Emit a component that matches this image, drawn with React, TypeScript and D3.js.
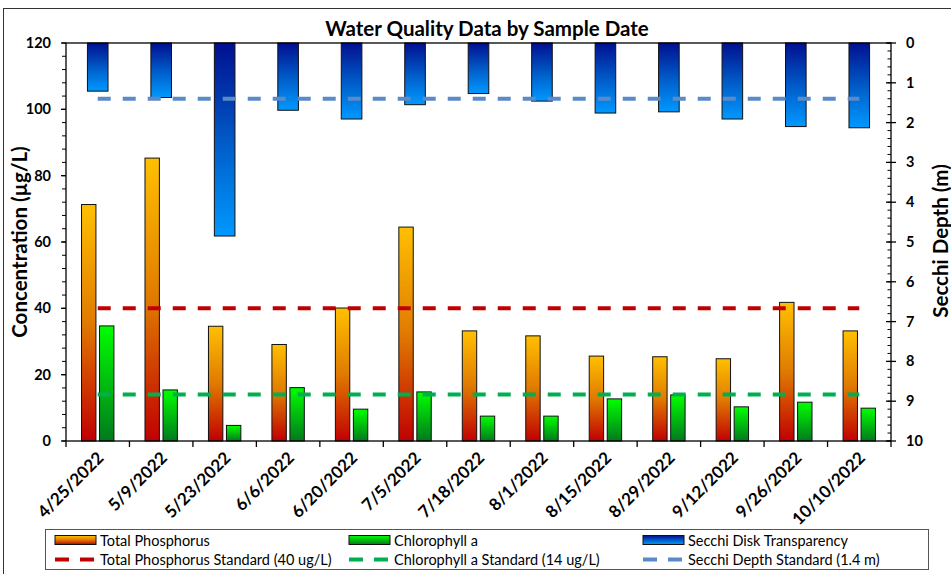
import React from "react";
import * as d3 from "d3";

const sampleDates = ["4/25/2022", "5/9/2022", "5/23/2022", "6/6/2022", "6/20/2022", "7/5/2022", "7/18/2022", "8/1/2022", "8/15/2022", "8/29/2022", "9/12/2022", "9/26/2022", "10/10/2022"];
const totalPhosphorus = [71.3, 85.3, 34.6, 29.1, 40.1, 64.5, 33.2, 31.7, 25.6, 25.4, 24.8, 41.8, 33.2];
const chlorophyllA = [34.7, 15.4, 4.7, 16.1, 9.6, 14.8, 7.5, 7.5, 12.7, 13.9, 10.3, 11.7, 9.9];
const secchiDepth = [1.21, 1.37, 4.85, 1.69, 1.91, 1.55, 1.27, 1.46, 1.76, 1.73, 1.91, 2.1, 2.13];
const tpStandard = 40;
const chlStandard = 14;
const secchiStandard = 1.4;
const leftTicks = [0, 20, 40, 60, 80, 100, 120];
const rightTicks = [0, 1, 2, 3, 4, 5, 6, 7, 8, 9, 10];

const W = 951;
const H = 574;
const plot = { left: 66, right: 891, top: 43, bottom: 441 };
const FONT = "Lato, 'Open Sans', sans-serif";

export default function App() {
  const x = d3.scaleBand<string>().domain(sampleDates).range([plot.left, plot.right]).paddingInner(0).paddingOuter(0);
  const bw = x.bandwidth();
  const x1 = d3.scaleBand<string>().domain(["tp", "chl"]).range([bw / 2 - 16.2, bw / 2 + 16.2]).paddingInner(0.2);
  const yL = d3.scaleLinear().domain([0, 120]).range([plot.bottom, plot.top]);
  const yR = d3.scaleLinear().domain([0, 10]).range([plot.top, plot.bottom]);
  const secW = 20.6;

  const leftMinor = d3.range(0, 121, 4);
  const rightMinor = d3.range(0, 10.01, 0.2);

  const lineX1 = (x(sampleDates[0]) as number) + bw / 2;
  const lineX2 = (x(sampleDates[sampleDates.length - 1]) as number) + bw / 2;

  const legendCols = [55, 349, 643];
  const legendRow1 = 540;
  const legendRow2 = 559.5;

  return (
    <svg width={W} height={H} style={{ position: "absolute", left: 0, top: 0, background: "#fff" }} fontFamily={FONT}>
      <defs>
        <linearGradient id="gTP" x1="0" y1="0" x2="0" y2="1">
          <stop offset="0" stopColor="#FFC000" />
          <stop offset="0.5" stopColor="#E07A00" />
          <stop offset="1" stopColor="#C00000" />
        </linearGradient>
        <linearGradient id="gChl" x1="0" y1="0" x2="0" y2="1">
          <stop offset="0" stopColor="#00FF00" />
          <stop offset="1" stopColor="#007A1E" />
        </linearGradient>
        <linearGradient id="gSec" x1="0" y1="0" x2="0" y2="1">
          <stop offset="0" stopColor="#001090" />
          <stop offset="0.55" stopColor="#0060CC" />
          <stop offset="1" stopColor="#0099FF" />
        </linearGradient>
      </defs>

      {/* outer border */}
      <rect x={3.5} y={8.5} width={W + 20} height={H + 20} fill="none" stroke="#333" strokeWidth={1} />

      {/* title */}
      <text x={487} y={36} textAnchor="middle" fontSize={20.5} fontWeight="bold" fill="#000">
        Water Quality Data by Sample Date
      </text>

      {/* Secchi bars (hanging from top) */}
      {sampleDates.map((d, i) => (
        <rect key={"s" + i} x={(x(d) as number) + bw / 2 - secW / 2} y={yR(0)} width={secW} height={yR(secchiDepth[i]) - yR(0)} fill="url(#gSec)" stroke="#111" strokeWidth={1} />
      ))}

      {/* TP and Chl bars */}
      {sampleDates.map((d, i) => (
        <g key={"b" + i}>
          <rect x={(x(d) as number) + (x1("tp") as number)} y={yL(totalPhosphorus[i])} width={x1.bandwidth()} height={yL(0) - yL(totalPhosphorus[i])} fill="url(#gTP)" stroke="#111" strokeWidth={1} />
          <rect x={(x(d) as number) + (x1("chl") as number)} y={yL(chlorophyllA[i])} width={x1.bandwidth()} height={yL(0) - yL(chlorophyllA[i])} fill="url(#gChl)" stroke="#111" strokeWidth={1} />
        </g>
      ))}

      {/* standards */}
      <line x1={lineX1} x2={lineX2} y1={yL(tpStandard)} y2={yL(tpStandard)} stroke="#C00000" strokeWidth={4} strokeDasharray="13 12" />
      <line x1={lineX1} x2={lineX2} y1={yL(chlStandard)} y2={yL(chlStandard)} stroke="#00B050" strokeWidth={4} strokeDasharray="13 12" />
      <line x1={lineX1} x2={lineX2} y1={yR(secchiStandard)} y2={yR(secchiStandard)} stroke="#5B8AC8" strokeWidth={4} strokeDasharray="13 12" />

      {/* plot frame */}
      <rect x={plot.left} y={plot.top} width={plot.right - plot.left} height={plot.bottom - plot.top} fill="none" stroke="#000" strokeWidth={1.3} />

      {/* left axis ticks */}
      {leftMinor.map((v) => (
        <line key={"lm" + v} x1={plot.left - 4} x2={plot.left} y1={yL(v)} y2={yL(v)} stroke="#000" strokeWidth={1} />
      ))}
      {leftTicks.map((v) => (
        <g key={"lt" + v}>
          <line x1={plot.left - 5} x2={plot.left} y1={yL(v)} y2={yL(v)} stroke="#000" strokeWidth={1.3} />
          <text x={51} y={yL(v)} dy="0.35em" textAnchor="end" fontSize={14.5} fontWeight="bold" fill="#000">{v}</text>
        </g>
      ))}

      {/* right axis ticks */}
      {rightMinor.map((v, i) => (
        <line key={"rm" + i} x1={plot.right - 3.5} x2={plot.right} y1={yR(v)} y2={yR(v)} stroke="#000" strokeWidth={1} />
      ))}
      {rightTicks.map((v) => (
        <g key={"rt" + v}>
          <line x1={plot.right - 5} x2={plot.right + 5} y1={yR(v)} y2={yR(v)} stroke="#000" strokeWidth={1.3} />
          <text x={906} y={yR(v)} dy="0.35em" textAnchor="start" fontSize={14.5} fontWeight="bold" fill="#000">{v}</text>
        </g>
      ))}

      {/* x axis ticks and labels */}
      {d3.range(sampleDates.length + 1).map((k) => (
        <line key={"xt" + k} x1={plot.left + k * bw} x2={plot.left + k * bw} y1={plot.bottom} y2={plot.bottom + 6} stroke="#000" strokeWidth={1.3} />
      ))}
      {sampleDates.map((d) => {
        const cx = (x(d) as number) + bw / 2 + 7;
        const cy = 459;
        return (
          <text key={"xl" + d} x={cx} y={cy} transform={`rotate(-45 ${cx} ${cy})`} textAnchor="end" fontSize={17} fontWeight="bold" fill="#000">{d}</text>
        );
      })}

      {/* axis titles */}
      <text transform={`translate(27 242) rotate(-90)`} textAnchor="middle" fontSize={20.5} fontWeight="bold" fill="#000">Concentration (µg/L)</text>
      <text transform={`translate(948 241) rotate(-90)`} textAnchor="middle" fontSize={20.5} fontWeight="bold" fill="#000">Secchi Depth (m)</text>

      {/* legend */}
      <rect x={45.5} y={529.5} width={883} height={40} fill="#fff" stroke="#555" strokeWidth={1} />
      <rect x={legendCols[0]} y={legendRow1 - 4.5} width={41} height={9} fill="url(#gTP)" stroke="#111" strokeWidth={1} />
      <rect x={legendCols[1]} y={legendRow1 - 4.5} width={41} height={9} fill="url(#gChl)" stroke="#111" strokeWidth={1} />
      <rect x={legendCols[2]} y={legendRow1 - 4.5} width={41} height={9} fill="url(#gSec)" stroke="#111" strokeWidth={1} />
      <line x1={legendCols[0]} x2={legendCols[0] + 39} y1={legendRow2} y2={legendRow2} stroke="#C00000" strokeWidth={4} strokeDasharray="14 11" />
      <line x1={legendCols[1]} x2={legendCols[1] + 39} y1={legendRow2} y2={legendRow2} stroke="#00B050" strokeWidth={4} strokeDasharray="14 11" />
      <line x1={legendCols[2]} x2={legendCols[2] + 39} y1={legendRow2} y2={legendRow2} stroke="#5B8AC8" strokeWidth={4} strokeDasharray="14 11" />
      <g fontSize={14.5} fill="#000">
        <text x={legendCols[0] + 45} y={legendRow1 + 5.5}>Total Phosphorus</text>
        <text x={legendCols[1] + 45} y={legendRow1 + 5.5}>Chlorophyll a</text>
        <text x={legendCols[2] + 45} y={legendRow1 + 5.5}>Secchi Disk Transparency</text>
        <text x={legendCols[0] + 45} y={legendRow2 + 5.5}>Total Phosphorus Standard (40 ug/L)</text>
        <text x={legendCols[1] + 45} y={legendRow2 + 5.5}>Chlorophyll a Standard (14 ug/L)</text>
        <text x={legendCols[2] + 45} y={legendRow2 + 5.5}>Secchi Depth Standard (1.4 m)</text>
      </g>
    </svg>
  );
}
